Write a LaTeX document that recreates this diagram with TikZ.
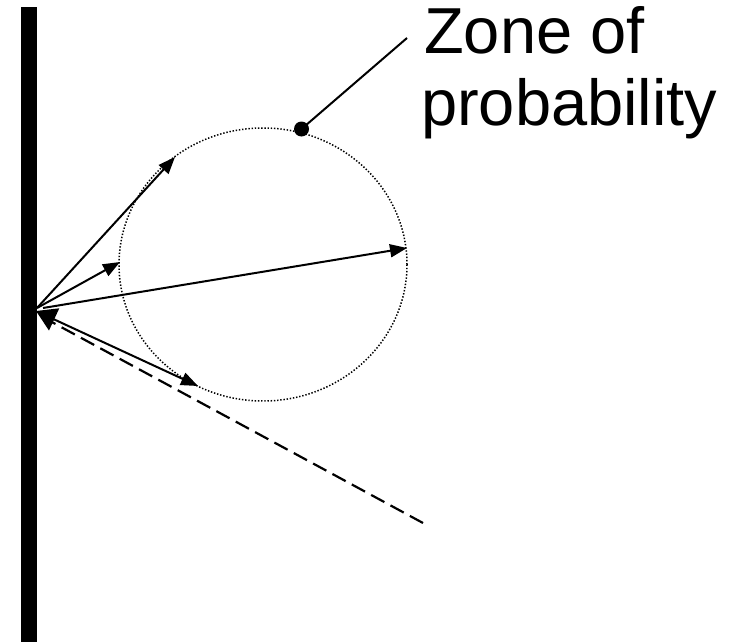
\documentclass[tikz,border=0pt]{standalone}
\usepackage{fontspec}
\setmainfont{Liberation Sans}
\usetikzlibrary{arrows.meta}
\begin{document}
\begin{tikzpicture}[x=1pt,y=-1pt,
  ray/.style={line width=2pt,-{Triangle[length=17pt,width=13pt]}},
  bounce/.style={line width=2pt,{Triangle[length=20pt,width=24pt]}-{Triangle[length=17pt,width=13pt]}},
  zone/.style={line width=1.5pt, dash pattern=on 1.4pt off 1.8pt},
  dashray/.style={line width=2.2pt, dash pattern=on 15pt off 7pt, dash phase=16pt},
  pointer/.style={line width=2pt},
  lbl/.style={inner sep=0pt, anchor=base west, font=\fontsize{65}{72}\selectfont}]
\useasboundingbox (0,0) rectangle (730,642);
\fill[white] (0,0) rectangle (730,642);
% named points
\coordinate (O) at (37,308);
\coordinate (Oa) at (43,308);
\coordinate (Ob) at (36,311);
\coordinate (Oc) at (37,314);
\coordinate (t1) at (175,157);
\coordinate (t2) at (120,262);
\coordinate (t3) at (407,248);
\coordinate (t4) at (198,386);
\coordinate (dend) at (423,523);
\coordinate (dot) at (301.5,129);
\coordinate (lend) at (407,38);
% zone of probability
\draw[zone] (263,264.5) ellipse [x radius=144pt, y radius=136.5pt];
% rays
\draw[ray] (O) -- (t1);
\draw[ray] (O) -- (t2);
\draw[ray] (Oa) -- (t3);
\draw[dashray] (Oc) -- (dend);
\draw[bounce] (Ob) -- (t4);
% wall
\fill[black] (21,7) rectangle (37,642);
% label pointer
\fill (dot) circle [radius=7.5pt];
\draw[pointer] (dot) -- (lend);
\node[lbl] (zone1) at (424,54) {Zone of};
\node[lbl] (zone2) at (421,125) {probability};
\end{tikzpicture}
\end{document}
